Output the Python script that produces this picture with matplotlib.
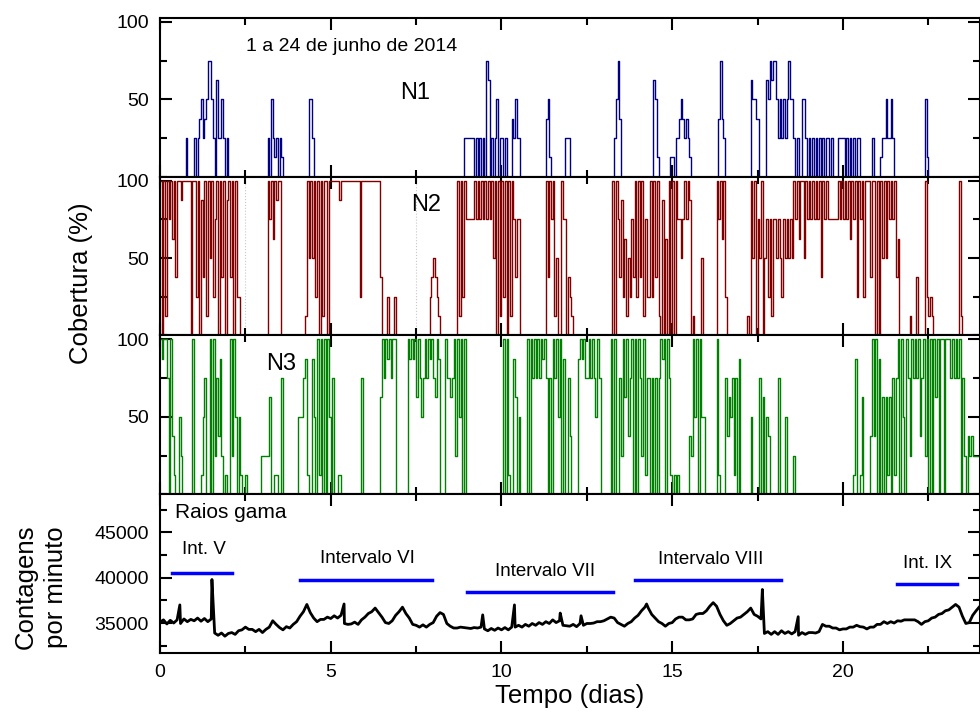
import numpy as np
import matplotlib
matplotlib.use("Agg")
import matplotlib.pyplot as plt
from matplotlib.ticker import MultipleLocator

plt.rcParams['font.family'] = ['Liberation Sans', 'DejaVu Sans']

# cobertura de nuvens em octas (0-8), uma amostra a cada 0.05 dia, uma linha por dia
passo = 0.05
n1_octas = [
    "00000000000000020000", "20234234664205224202", "00000000000000000000",
    "00020421202100000000", "00000004420000000000", "00000000000000000000",
    "00000000000000000000", "00000000000000000000", "00000000000000000022",
    "22220202020650202402", "20200032422000000000", "00000034100000000222",
    "00000000000000000000", "00000024630000000000", "00000000054100000001",
    "10223432321000000000", "00000003632000000000", "00000054433000054656",
    "64242424644202004420", "20202020202202000222", "20202020220000000200",
    "00122422420000000000", "00000000410000000000", "00000000000000000000",
]
n2_octas = [
    "80818685838878888808", "82807381848268083807", "83808220000000000000",
    "00086858788000000000", "00000184848280818808", "88888788888888888288",
    "88888888830002000200", "00000000000000000023", "43210000000000818286",
    "66668686868686848081", "82808186366000000000", "00000083868140086603",
    "21000000000000000000", "00000808637251426382", "83816228283810705080",
    "80866468687010000400", "00000086858200000000", "00001084806480462616",
    "64642646464868588486", "86868683868666666868", "68685868286828883880",
    "80848486868350000001", "00030000821210000000", "00000000810000000000",
]
n3_octas = [
    "87886083100420000008", "00001460080826372010", "08284041001000000002",
    "22225001100600000000", "04446710074081808084", "06001100000000000060",
    "00000000058687868800", "00000878785864686878", "65870008665682848080",
    "00000000000000000000", "08081007504000080868", "68687860608684807006",
    "30000787866868648600", "00008080062858368080", "86281660606068780861",
    "01010000003284808440", "00000081000635461607", "00000040000605043000",
    "00600040000200000000", "00000000000000000000", "00000017001500003838",
    "07050515061680840862", "86868368280808580880", "88868686806203232222",
]

# raios gama, contagens por minuto a cada 0.1 dia
gama_passo = 0.1
gama_base = [
    35100, 35350, 34900, 35300, 35000, 35350, 34950, 35450, 35150, 35400,
    35250, 35550, 35200, 35500, 35150, 35450, 33900, 33650, 33900, 33550,
    33850, 33950, 33750, 34150, 34250, 34550, 34300, 34300, 34050, 34300,
    33950, 34300, 34550, 35250, 34850, 34500, 34250, 34600, 34450, 34850,
    35150, 35750, 36250, 37050, 36150, 35550, 35150, 35400, 35400, 35650,
    35500, 35800, 35550, 35850, 34950, 34850, 34900, 35100, 34850, 35350,
    35650, 36050, 36250, 36650, 36150, 35650, 35050, 34950, 35250, 35850,
    36250, 36750, 36050, 35550, 34850, 34750, 34550, 34800, 34550, 34850,
    35050, 35750, 36150, 35950, 34950, 34650, 34450, 34450, 34550, 34500,
    34450, 34400, 34500, 34450, 34550, 34350, 34150, 34400, 34200, 34450,
    34250, 34500, 34250, 34550, 34550, 34750, 34550, 34850, 34650, 34950,
    34750, 35050, 34850, 35150, 34950, 35350, 35050, 35250, 34750, 34700,
    34650, 34850, 34600, 34950, 34750, 34950, 34950, 35000, 35150, 35150,
    35250, 35450, 35650, 35550, 35050, 34850, 34650, 34950, 35150, 35550,
    35850, 36350, 36750, 36650, 35950, 35550, 35150, 34950, 34650, 34950,
    35050, 35450, 35650, 35650, 35350, 35350, 35450, 35950, 36050, 36050,
    36350, 36850, 37250, 36850, 35950, 35250, 34750, 34950, 35250, 35550,
    35650, 35950, 36250, 36650, 35950, 35750, 35450, 33850, 34050, 33750,
    34050, 33750, 34150, 33850, 34050, 33800, 34050, 33650, 33950, 33750,
    33950, 33950, 33900, 34050, 34850, 34650, 34650, 34450, 34450, 34250,
    34350, 34350, 34550, 34550, 34750, 34600, 34550, 34350, 34550, 34550,
    34850, 34850, 35150, 34950, 35150, 35000, 35250, 35200, 35350, 35350,
    35350, 35350, 35150, 34850, 35150, 35250, 35550, 35650, 35950, 36050,
    36350, 36450, 36750, 37050, 36750, 35750, 34950, 35050, 35850, 36350,
    36800,
]
gama_pico_t = [0.58, 1.52, 5.39, 9.45, 10.38, 11.72, 12.33, 14.25, 17.64, 18.69]
gama_pico_v = [37000, 39800, 37100, 35900, 37000, 36100, 35800, 37100, 38700, 35700]

# intervalos marcados no painel dos raios gama
int_nome = ["Int. V", "Intervalo VI", "Intervalo VII", "Intervalo VIII", "Int. IX"]
int_ini = [0.34, 4.11, 9.0, 13.92, 21.59]
int_fim = [2.12, 7.97, 13.28, 18.18, 23.34]
int_y = [40500, 39700, 38400, 39700, 39260]
int_txt_x = [1.28, 6.06, 11.27, 16.14, 22.49]
int_txt_y = [43160, 42150, 40670, 41970, 41600]


def serie(octas):
    s = "".join(octas)
    v = np.array([int(c) for c in s] + [int(s[-1])]) * 12.5
    t = np.arange(len(v)) * passo
    return t, v


fig = plt.figure(figsize=(9.8, 7.17), dpi=100)
gs = fig.add_gridspec(4, 1, left=0.1633, right=0.9995, bottom=0.0893, top=0.9749, hspace=0)
axs = [fig.add_subplot(gs[i]) for i in range(4)]

cores = ['#000080', '#800000', '#008000']
for ax, octas, cor in zip(axs[:3], [n1_octas, n2_octas, n3_octas], cores):
    t, v = serie(octas)
    ax.plot(t, v, drawstyle='steps-post', color=cor, lw=1.0)
    ax.set_ylim(0, 102.5)
    ax.set_yticks([50, 100])
    ax.yaxis.set_minor_locator(MultipleLocator(25))

for xv in [2.5, 7.5]:
    axs[1].axvline(xv, color='#c8c8c8', ls=':', lw=0.8, zorder=0)

gt = list(np.arange(len(gama_base)) * gama_passo) + gama_pico_t
gv = list(gama_base) + gama_pico_v
ordem = np.argsort(gt)
axs[3].plot(np.array(gt)[ordem], np.array(gv)[ordem], color='k', lw=2.0)
axs[3].set_ylim(31700, 49200)
axs[3].set_yticks([35000, 40000, 45000])
axs[3].yaxis.set_minor_locator(MultipleLocator(2500))

for i in range(len(int_nome)):
    axs[3].plot([int_ini[i], int_fim[i]], [int_y[i], int_y[i]], color='#0000ff', lw=2.5)
    axs[3].text(int_txt_x[i], int_txt_y[i], int_nome[i], ha='center', va='center', fontsize=13.5)

axs[0].text(2.53, 84, "1 a 24 de junho de 2014", ha='left', va='center', fontsize=14)
axs[0].text(7.46, 54, "N1", ha='center', va='center', fontsize=17)
axs[1].text(7.79, 84, "N2", ha='center', va='center', fontsize=17)
axs[2].text(3.54, 84, "N3", ha='center', va='center', fontsize=17)
axs[3].text(0.44, 47220, "Raios gama", ha='left', va='center', fontsize=15)

for i, ax in enumerate(axs):
    ax.set_xlim(0, 24)
    ax.xaxis.set_major_locator(MultipleLocator(5))
    ax.xaxis.set_minor_locator(MultipleLocator(2.5))
    ax.tick_params(which='both', direction='in', top=True, right=True, width=1.5)
    ax.tick_params(which='major', length=8.5, labelsize=14, pad=8)
    ax.tick_params(which='minor', length=5)
    for sp in ax.spines.values():
        sp.set_linewidth(1.5)
    if i < 3:
        ax.tick_params(labelbottom=False)

fig.text(0.0827, 0.605, "Cobertura (%)", rotation=90, ha='center', va='center', fontsize=18.5)
fig.text(0.042, 0.181, "Contagens\npor minuto", rotation=90, ha='center', va='center',
         fontsize=18.5, linespacing=1.35)
fig.text(0.5816, 0.0293, "Tempo (dias)", ha='center', va='center', fontsize=18.5)

fig.savefig("out.png", dpi=100)
